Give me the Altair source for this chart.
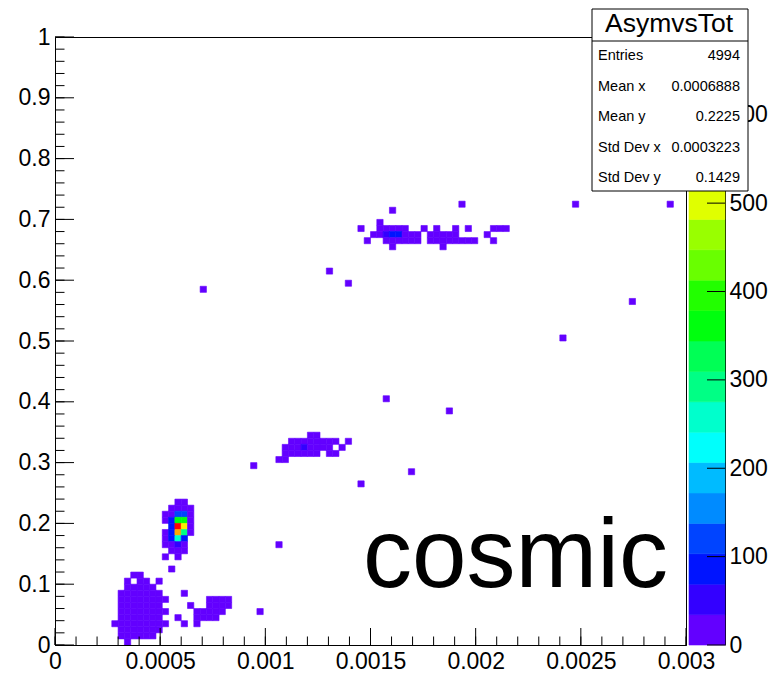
import colorsys
import altair as alt
import pandas as pd

# ---------------- data (histogram AsymvsTot, 100 x 100 bins) ----------------
X_MAX = 0.003
Y_MAX = 1.0
N_BINS = 100
Z_MAX = 688.0

bin_ix = [
    # cluster near origin
    11,
    10, 11, 12, 13, 14, 15,
    10, 11, 12, 13, 14, 15, 16,
    9, 10, 11, 12, 13, 14, 15, 16, 17, 20, 22,
    10, 11, 12, 13, 14, 15, 16, 19, 22, 23, 24, 25,
    10, 11, 12, 13, 14, 15, 16, 17, 22, 23, 24, 25, 26, 32,
    10, 11, 12, 13, 14, 15, 16, 21, 24, 25, 26, 27,
    10, 11, 12, 13, 14, 15, 16, 17, 24, 25, 26, 27,
    10, 11, 12, 13, 14, 15, 16, 20,
    11, 12, 13, 14, 15,
    11, 13, 14, 16,
    12, 13,
    18,
    # cluster at y ~ 0.2
    19, 20,
    18, 19, 20, 21,
    17, 18, 19, 20, 21,
    17, 18, 19, 20, 21,
    18, 19, 20, 21,
    17, 18, 19, 20, 21,
    17, 18, 19, 20,
    17, 18, 19, 20,
    18, 19, 20,
    17, 19,
    # cluster at y ~ 0.32
    40, 41,
    37, 38, 39, 40, 41, 42, 43, 44, 46,
    36, 37, 38, 39, 40, 41, 42, 43, 45,
    36, 37, 38, 39, 40, 41, 43, 44,
    35, 36,
    # cluster at y ~ 0.67
    64,
    53,
    51,
    48, 51, 52, 53, 54, 55, 58, 60, 63, 65, 69, 70, 71,
    50, 51, 52, 53, 54, 55, 56, 57, 59, 60, 61, 62, 63, 68,
    49, 52, 53, 54, 55, 56, 57, 59, 60, 61, 62, 63, 64, 65, 66, 69,
    53, 61,
    # isolated entries
    23, 43, 46, 80, 91, 82, 97, 52, 62, 56, 48, 31, 35,
]

bin_iy = [
    0,
    1, 1, 1, 1, 1, 1,
    2, 2, 2, 2, 2, 2, 2,
    3, 3, 3, 3, 3, 3, 3, 3, 3, 3, 3,
    4, 4, 4, 4, 4, 4, 4, 4, 4, 4, 4, 4,
    5, 5, 5, 5, 5, 5, 5, 5, 5, 5, 5, 5, 5, 5,
    6, 6, 6, 6, 6, 6, 6, 6, 6, 6, 6, 6,
    7, 7, 7, 7, 7, 7, 7, 7, 7, 7, 7, 7,
    8, 8, 8, 8, 8, 8, 8, 8,
    9, 9, 9, 9, 9,
    10, 10, 10, 10,
    11, 11,
    12,
    23, 23,
    22, 22, 22, 22,
    21, 21, 21, 21, 21,
    20, 20, 20, 20, 20,
    19, 19, 19, 19,
    18, 18, 18, 18, 18,
    17, 17, 17, 17,
    16, 16, 16, 16,
    15, 15, 15,
    14, 14,
    34, 34,
    33, 33, 33, 33, 33, 33, 33, 33, 33,
    32, 32, 32, 32, 32, 32, 32, 32, 32,
    31, 31, 31, 31, 31, 31, 31, 31,
    30, 30,
    72,
    71,
    69,
    68, 68, 68, 68, 68, 68, 68, 68, 68, 68, 68, 68, 68,
    67, 67, 67, 67, 67, 67, 67, 67, 67, 67, 67, 67, 67, 67,
    66, 66, 66, 66, 66, 66, 66, 66, 66, 66, 66, 66, 66, 66, 66, 66,
    65, 65,
    58, 61, 59, 50, 56, 72, 72, 40, 38, 28, 26, 29, 16,
]

bin_counts = [
    3,
    6, 12, 14, 12, 9, 4,
    9, 18, 22, 21, 17, 11, 3,
    2, 12, 22, 27, 26, 20, 13, 6, 2, 1, 2,
    11, 21, 28, 27, 22, 14, 5, 1, 3, 4, 3, 2,
    10, 20, 26, 25, 20, 13, 6, 2, 4, 6, 7, 5, 2, 1,
    8, 16, 22, 21, 17, 10, 4, 1, 5, 6, 4, 3,
    6, 12, 17, 16, 13, 8, 4, 1, 3, 4, 3, 2,
    3, 8, 11, 10, 8, 5, 2, 1,
    4, 6, 6, 4, 2,
    1, 3, 2, 1,
    1, 2,
    1,
    4, 3,
    8, 18, 16, 6,
    5, 26, 120, 112, 12,
    8, 88, 362, 348, 20,
    92, 655, 528, 24,
    10, 84, 566, 292, 14,
    6, 76, 254, 86,
    3, 22, 52, 18,
    6, 9, 4,
    1, 2,
    2, 3,
    2, 4, 6, 8, 7, 5, 3, 2, 1,
    3, 6, 12, 38, 18, 10, 6, 3, 1,
    4, 8, 10, 9, 6, 3, 2, 1,
    2, 3,
    1,
    1,
    1,
    1, 3, 8, 12, 9, 4, 1, 2, 2, 1, 2, 3, 2,
    2, 12, 48, 86, 80, 16, 8, 5, 4, 6, 7, 5, 3, 1,
    1, 10, 14, 12, 6, 4, 3, 3, 5, 6, 5, 4, 3, 2, 1, 1,
    2, 2,
    1, 1, 1, 1, 1, 1, 1, 1, 1, 1, 1, 1, 1,
]

x_tick_values = [0, 0.0005, 0.001, 0.0015, 0.002, 0.0025, 0.003]
x_minor_values = [i * 0.0001 for i in range(31)]
y_tick_values = [0, 0.1, 0.2, 0.3, 0.4, 0.5, 0.6, 0.7, 0.8, 0.9, 1.0]
y_minor_values = [i * 0.02 for i in range(51)]
z_tick_values = [0, 100, 200, 300, 400, 500, 600]

stat_title = ["AsymvsTot"]
stat_names = ["Entries", "Mean x", "Mean y", "Std Dev x", "Std Dev y"]
stat_values = ["4994", "0.0006888", "0.2225", "0.0003223", "0.1429"]
annotation = ["cosmic"]

# ---------------- palette (ROOT pretty palette, 20 contours) ----------------
N_LEVELS = 20


def root_level_color(j):
    idx = int((j + 0.99) * 50 / N_LEVELS)
    if idx >= 49:
        return "#ff0000"
    hue = 280 - (idx + 1) * 5.6
    r, g, b = colorsys.hls_to_rgb(hue / 360.0, 0.5, 1.0)
    return "#%02x%02x%02x" % (round(r * 255), round(g * 255), round(b * 255))


palette = [root_level_color(j) for j in range(N_LEVELS)]

# ---------------- tables ----------------
dx = X_MAX / N_BINS
dy = Y_MAX / N_BINS
cells = pd.DataFrame({"ix": bin_ix, "iy": bin_iy, "count": bin_counts})
cells["x0"] = cells["ix"] * dx
cells["x1"] = (cells["ix"] + 1) * dx
cells["y0"] = cells["iy"] * dy
cells["y1"] = (cells["iy"] + 1) * dy

dz = Z_MAX / N_LEVELS
levels = pd.DataFrame({"lo": [k * dz for k in range(N_LEVELS)]})
levels["hi"] = levels["lo"] + dz
levels["mid"] = levels["lo"] + dz / 2

FONT = "Liberation Sans"
W, H = 631, 608

xscale = alt.Scale(domain=[0, X_MAX], nice=False, zero=False)
yscale = alt.Scale(domain=[0, Y_MAX], nice=False, zero=False)
zscale = alt.Scale(domain=[0, Z_MAX], nice=False, zero=False)
cscale = alt.Scale(type="quantize", domain=[0, Z_MAX], range=palette, nice=False)

xaxis = alt.Axis(values=x_tick_values, format="~g", title=None, ticks=False,
                 domain=True, domainColor="black", domainWidth=1,
                 labelFont=FONT, labelFontSize=23, labelColor="black",
                 labelPadding=5, labelFlush=False, labelOverlap=False,
                 grid=False, zindex=1)
yaxis = alt.Axis(values=y_tick_values, format="~g", title=None, ticks=False,
                 domain=True, domainColor="black", domainWidth=1,
                 labelFont=FONT, labelFontSize=23, labelColor="black",
                 labelPadding=5, labelFlush=False, labelOverlap=False,
                 grid=False, zindex=1, orient="left")
zaxis = alt.Axis(values=z_tick_values, format="d", title=None, ticks=False,
                 domain=True, domainColor="black", domainWidth=1,
                 labelFont=FONT, labelFontSize=23, labelColor="black",
                 labelPadding=4, labelFlush=False, labelOverlap=False,
                 grid=False, orient="right", offset=39)

heat = alt.Chart(cells).mark_rect(strokeWidth=0.6).encode(
    x=alt.X("x0:Q", scale=xscale, axis=xaxis),
    x2="x1:Q",
    y=alt.Y("y0:Q", scale=yscale, axis=yaxis),
    y2="y1:Q",
    color=alt.Color("count:Q", scale=cscale, legend=None),
    stroke=alt.Stroke("count:Q", scale=cscale, legend=None),
)

xmaj = alt.Chart(pd.DataFrame({"t": x_tick_values})).mark_rule(color="black", strokeWidth=1).encode(
    x=alt.X("t:Q", scale=xscale, axis=xaxis), y=alt.value(H), y2=alt.value(H - 17))
xmin = alt.Chart(pd.DataFrame({"t": x_minor_values})).mark_rule(color="black", strokeWidth=1).encode(
    x=alt.X("t:Q", scale=xscale, axis=xaxis), y=alt.value(H), y2=alt.value(H - 8.5))
ymaj = alt.Chart(pd.DataFrame({"t": y_tick_values})).mark_rule(color="black", strokeWidth=1).encode(
    y=alt.Y("t:Q", scale=yscale, axis=yaxis), x=alt.value(0), x2=alt.value(19))
ymin = alt.Chart(pd.DataFrame({"t": y_minor_values})).mark_rule(color="black", strokeWidth=1).encode(
    y=alt.Y("t:Q", scale=yscale, axis=yaxis), x=alt.value(0), x2=alt.value(9.5))

label = alt.Chart(pd.DataFrame({"txt": annotation})).mark_text(
    font=FONT, fontSize=98, align="left", baseline="alphabetic", color="black"
).encode(text="txt:N", x=alt.value(308), y=alt.value(550))

main = alt.layer(heat, xmaj, xmin, ymaj, ymin, label)

# colour bar
cbar_rect = alt.Chart(levels).mark_rect(strokeWidth=0.6).encode(
    y=alt.Y("lo:Q", scale=zscale, axis=zaxis),
    y2="hi:Q",
    x=alt.value(634), x2=alt.value(670),
    color=alt.Color("mid:Q", scale=cscale, legend=None),
    stroke=alt.Stroke("mid:Q", scale=cscale, legend=None),
)
cbar_ticks = alt.Chart(pd.DataFrame({"z": z_tick_values})).mark_rule(color="black", strokeWidth=1).encode(
    y=alt.Y("z:Q", scale=zscale, axis=zaxis), x=alt.value(652), x2=alt.value(670))
cbar = alt.layer(cbar_rect, cbar_ticks)

# statistics box
one = pd.DataFrame({"title": stat_title,
                    "names": ["\n".join(stat_names)],
                    "vals": ["\n".join(stat_values)]})
box = alt.Chart(one).mark_rect(fill="white", stroke="black", strokeWidth=1).encode(
    x=alt.value(537), x2=alt.value(693), y=alt.value(-28), y2=alt.value(154))
sep = alt.Chart(one).mark_rule(color="black", strokeWidth=1).encode(
    x=alt.value(537), x2=alt.value(693), y=alt.value(4))
title = alt.Chart(one).mark_text(font=FONT, fontSize=26.5, align="center", baseline="middle",
                                 color="black").encode(
    text="title:N", x=alt.value(614), y=alt.value(-13))
names = alt.Chart(one).mark_text(font=FONT, fontSize=14.5, align="left", baseline="alphabetic",
                                 lineBreak="\n", lineHeight=30.5, color="black").encode(
    text="names:N", x=alt.value(543), y=alt.value(23))
vals = alt.Chart(one).mark_text(font=FONT, fontSize=14.5, align="right", baseline="alphabetic",
                                lineBreak="\n", lineHeight=30.5, color="black").encode(
    text="vals:N", x=alt.value(685), y=alt.value(23))
stats = alt.layer(box, sep, title, names, vals)

chart = alt.layer(main, cbar, stats).resolve_scale(y="independent").properties(
    width=W, height=H,
    autosize=alt.AutoSizeParams(type="none"),
    padding={"left": 55, "top": 37, "right": 88, "bottom": 32},
    background="white",
).configure_view(stroke="black", strokeWidth=1)

chart.save("out.html", embed_options={"renderer": "svg", "actions": False})
